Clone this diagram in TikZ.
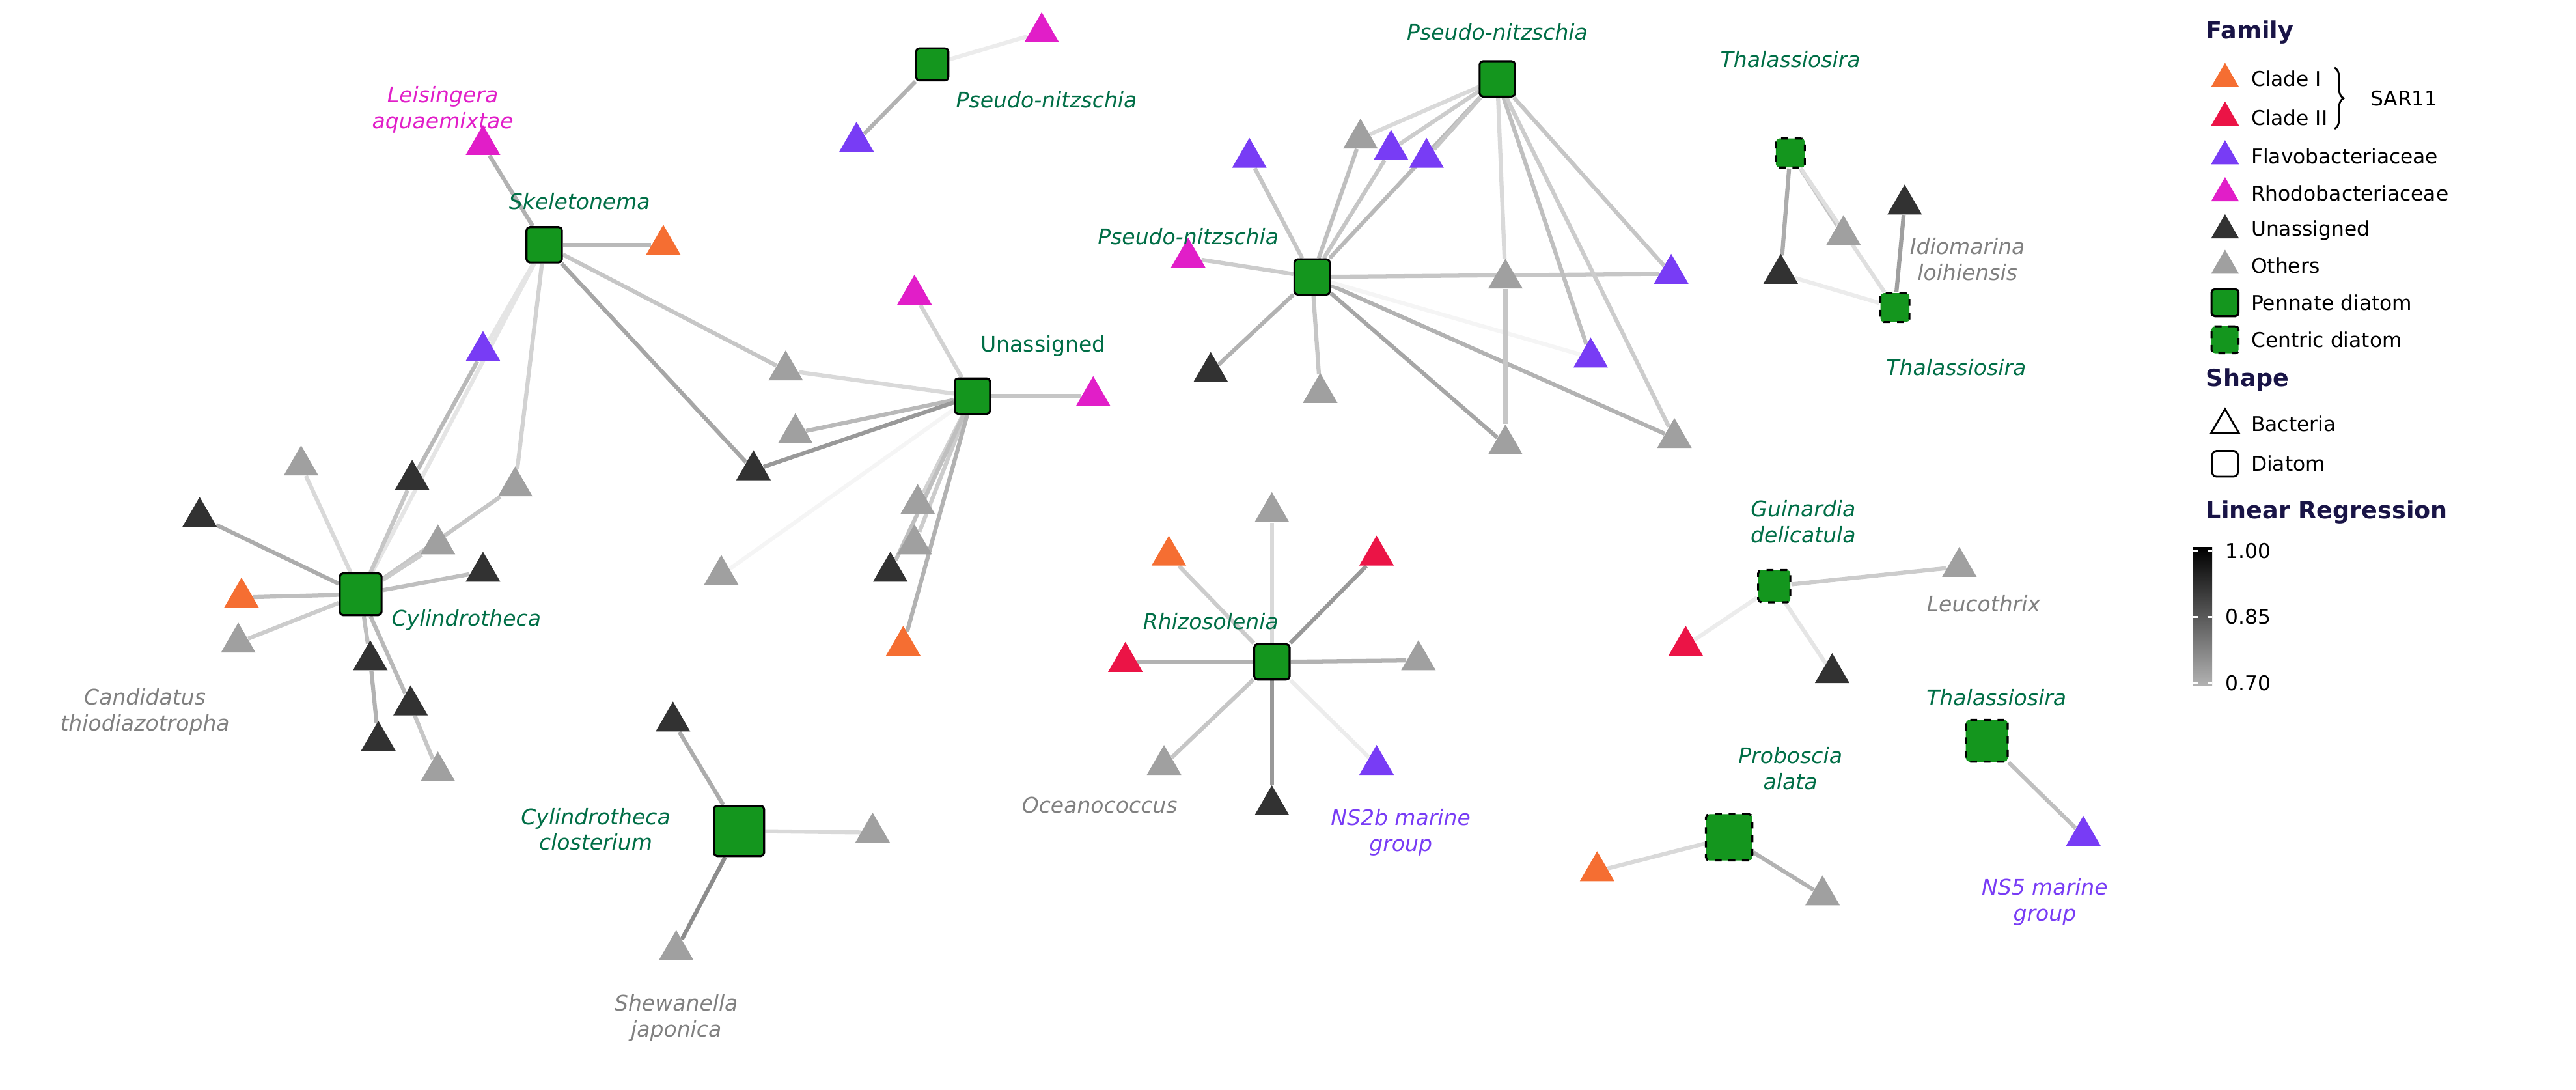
\documentclass[tikz,border=0pt]{standalone}
\usepackage{fontspec}
\setmainfont{DejaVu Sans}
\usetikzlibrary{shapes.geometric,decorations.pathreplacing}
\pgfdeclarelayer{background}
\pgfsetlayers{background,main}
\definecolor{dgreen}{RGB}{20,150,30}
\definecolor{tgreen}{RGB}{0,110,70}
\definecolor{cOrange}{RGB}{245,110,50}
\definecolor{cRed}{RGB}{235,20,70}
\definecolor{cPurple}{RGB}{120,60,245}
\definecolor{cPink}{RGB}{225,30,200}
\definecolor{cBlack}{RGB}{50,50,50}
\definecolor{cGray}{RGB}{160,160,160}
\definecolor{navy}{RGB}{25,20,70}
\tikzset{
  tri/.style={regular polygon,regular polygon sides=3,minimum size=0.62cm,inner sep=0pt,draw=none,fill=#1},
  pen/.style={rectangle,rounded corners=1.5pt,minimum size=0.55cm,fill=dgreen,draw=black,line width=0.9pt},
  cen/.style={pen,dashed},
  lbl/.style={font=\fontsize{9.5}{11.5}\selectfont\itshape,align=center,inner sep=0pt},
  glbl/.style={lbl,text=tgreen},
  e/.style={draw=gray!#1,line width=1.8pt},
  legend/.style={font=\fontsize{9}{11}\selectfont,anchor=west,inner sep=0pt}
}
\begin{document}
\begin{tikzpicture}[x=0.025cm,y=-0.025cm]
\useasboundingbox (0,0) rectangle (1600,676.5);
% nodes
\begin{scope}
  % Skeletonema / Cylindrotheca cluster
  \node[pen] (ske) at (338,152) {};
  \node[tri=cPink] (lei) at (300,90) {};
  \node[tri=cOrange] (skeO) at (412,152) {};
  \node[tri=cPurple] (skeP) at (300,218) {};
  \node[pen,minimum size=0.65cm] (cyl) at (224,369) {};
  \node[tri=cBlack] (cyB1) at (124,321) {};
  \node[tri=cOrange] (cyO) at (150,371) {};
  \node[tri=cGray] (cand) at (148,399) {};
  \node[tri=cGray] (cyG1) at (187,289) {};
  \node[tri=cBlack] (cyB2) at (256,298) {};
  \node[tri=cGray] (cyG2) at (320,302) {};
  \node[tri=cGray] (cyG3) at (272,338) {};
  \node[tri=cBlack] (cyB3) at (300,355) {};
  \node[tri=cBlack] (cyB4) at (230,410) {};
  \node[tri=cBlack] (cyB5) at (255,438) {};
  \node[tri=cBlack] (cyB6) at (235,460) {};
  \node[tri=cGray] (cyG4) at (272,479) {};
  % Unassigned
  \node[pen] (una) at (604,246) {};
  \node[tri=cPink] (unP1) at (568,183) {};
  \node[tri=cPink] (unP2) at (679,246) {};
  \node[tri=cGray] (unG1) at (488,230) {};
  \node[tri=cGray] (unG2) at (494,269) {};
  \node[tri=cBlack] (unB1) at (468,292) {};
  \node[tri=cGray] (unG3) at (448,357) {};
  \node[tri=cGray] (unG4) at (570,313) {};
  \node[tri=cGray] (unG5) at (568,338) {};
  \node[tri=cBlack] (unB2) at (553,355) {};
  \node[tri=cOrange] (unO) at (561,401) {};
  % small Pseudo-nitzschia
  \node[pen,minimum size=0.5cm] (psA) at (579,40) {};
  \node[tri=cPink] (psAP) at (647,20) {};
  \node[tri=cPurple] (psAV) at (532,88) {};
  % Pseudo-nitzschia pair
  \node[pen] (psB) at (815,172) {};
  \node[pen] (psC) at (930,49) {};
  \node[tri=cPurple] (pbV1) at (776,98) {};
  \node[tri=cGray] (pbG1) at (845,86) {};
  \node[tri=cPurple] (pbV2) at (864,93) {};
  \node[tri=cPurple] (pbV3) at (886,98) {};
  \node[tri=cPink] (pbP) at (738,160) {};
  \node[tri=cBlack] (pbB) at (752,231) {};
  \node[tri=cGray] (pbG2) at (820,244) {};
  \node[tri=cGray] (pbG3) at (935,173) {};
  \node[tri=cPurple] (pbV4) at (1038,170) {};
  \node[tri=cPurple] (pbV5) at (988,222) {};
  \node[tri=cGray] (pbG4) at (935,276) {};
  \node[tri=cGray] (pbG5) at (1040,272) {};
  % Thalassiosira pair
  \node[cen,minimum size=0.45cm] (thA) at (1112,95) {};
  \node[cen,minimum size=0.45cm] (thB) at (1177,191) {};
  \node[tri=cBlack] (thK1) at (1183,127) {};
  \node[tri=cGray] (thG) at (1145,146) {};
  \node[tri=cBlack] (thK2) at (1106,170) {};
  % Rhizosolenia
  \node[pen] (rhi) at (790,411) {};
  \node[tri=cGray] (rhG1) at (790,318) {};
  \node[tri=cOrange] (rhO) at (726,345) {};
  \node[tri=cRed] (rhR1) at (855,345) {};
  \node[tri=cRed] (rhR2) at (699,411) {};
  \node[tri=cGray] (rhG2) at (881,410) {};
  \node[tri=cGray] (oce) at (723,475) {};
  \node[tri=cPurple] (ns2) at (855,475) {};
  \node[tri=cBlack] (rhB) at (790,500) {};
  % Cylindrotheca closterium
  \node[pen,minimum size=0.78cm] (clo) at (459,516) {};
  \node[tri=cBlack] (clB) at (418,448) {};
  \node[tri=cGray] (clG) at (542,517) {};
  \node[tri=cGray] (she) at (420,590) {};
  % Guinardia
  \node[cen,minimum size=0.5cm] (gui) at (1102,364) {};
  \node[tri=cGray] (leu) at (1217,352) {};
  \node[tri=cRed] (guR) at (1047,401) {};
  \node[tri=cBlack] (guB) at (1138,418) {};
  % Thalassiosira single
  \node[cen,minimum size=0.65cm] (thC) at (1234,460) {};
  \node[tri=cPurple] (ns5) at (1294,519) {};
  % Proboscia
  \node[cen,minimum size=0.72cm] (pro) at (1074,520) {};
  \node[tri=cOrange] (prO) at (992,541) {};
  \node[tri=cGray] (prG) at (1132,556) {};
\end{scope}

% edges
\begin{pgfonlayer}{background}
\begin{scope}[every edge/.style={e=60}]
  \path (ske) edge[e=60] (lei) (ske) edge[e=55] (skeO) (ske) edge[e=20] (skeP)
        (skeP) edge[e=55] (cyB2) (ske) edge[e=20] (cyl) (ske) edge[e=35] (cyG2)
        (ske) edge[e=45] (unG1) (ske) edge[e=70] (unB1);
  \path (cyl) edge[e=65] (cyB1) (cyl) edge[e=50] (cyO) (cyl) edge[e=40] (cand)
        (cyl) edge[e=30] (cyG1) (cyl) edge[e=45] (cyB2) (cyl) edge[e=45] (cyG2)
        (cyl) edge[e=40] (cyG3) (cyl) edge[e=50] (cyB3) (cyl) edge[e=50] (cyB4)
        (cyl) edge[e=55] (cyB5) (cyB4) edge[e=60] (cyB6) (cyB5) edge[e=45] (cyG4);
  \path (una) edge[e=35] (unP1) (una) edge[e=45] (unP2) (una) edge[e=30] (unG1)
        (una) edge[e=55] (unG2) (una) edge[e=80] (unB1) (una) edge[e=8] (unG3)
        (una) edge[e=35] (unG4) (una) edge[e=40] (unG5) (una) edge[e=50] (unB2)
        (una) edge[e=60] (unO);
  \path (psA) edge[e=15] (psAP) (psA) edge[e=60] (psAV);
  \path (psB) edge[e=45] (pbV1) (psB) edge[e=50] (pbG1) (psB) edge[e=45] (pbV2)
        (psB) edge[e=40] (pbP) (psB) edge[e=60] (pbB) (psB) edge[e=45] (pbG2)
        (psB) edge[e=70] (pbG4) (psB) edge[e=60] (pbG5) (psB) edge[e=45] (pbV4)
        (psB) edge[e=8] (pbV5) (psB) edge[e=55] (psC)
        (psC) edge[e=30] (pbG1) (psC) edge[e=40] (pbV2) (psC) edge[e=45] (pbV3)
        (psC) edge[e=30] (pbG3) (psC) edge[e=45] (pbV4) (psC) edge[e=50] (pbV5)
        (psC) edge[e=40] (pbG5) (pbG3) edge[e=45] (pbG4);
  \path (thA) edge[e=65] (thK2) (thA) edge[e=45] (thG) (thA) edge[e=25] (thB)
        (thB) edge[e=75] (thK1) (thK2) edge[e=15] (thB);
  \path (rhi) edge[e=30] (rhG1) (rhi) edge[e=40] (rhO) (rhi) edge[e=80] (rhR1)
        (rhi) edge[e=60] (rhR2) (rhi) edge[e=60] (rhG2) (rhi) edge[e=45] (oce)
        (rhi) edge[e=15] (ns2) (rhi) edge[e=80] (rhB);
  \path (clo) edge[e=65] (clB) (clo) edge[e=30] (clG) (clo) edge[e=90] (she);
  \path (gui) edge[e=40] (leu) (gui) edge[e=15] (guR) (gui) edge[e=20] (guB);
  \path (thC) edge[e=50] (ns5);
  \path (pro) edge[e=30] (prO) (pro) edge[e=60] (prG);
\end{scope}
\end{pgfonlayer}

% labels
\node[glbl] (lSke) at (360,125) {Skeletonema};
\node[lbl,text=cPink] (lLei) at (275,68) {Leisingera\\aquaemixtae};
\node[glbl,anchor=west] (lCyl) at (243,385) {Cylindrotheca};
\node[lbl,text=gray] (lCan) at (90,442) {Candidatus\\thiodiazotropha};
\node[glbl,font=\fontsize{9.5}{11.5}\selectfont] (lUna) at (648,215) {Unassigned};
\node[glbl] (lPsA) at (650,62) {Pseudo-nitzschia};
\node[glbl] (lPsB) at (738,147) {Pseudo-nitzschia};
\node[glbl] (lPsC) at (930,20) {Pseudo-nitzschia};
\node[glbl] (lThA) at (1112,37) {Thalassiosira};
\node[glbl] (lThB) at (1215,228) {Thalassiosira};
\node[lbl,text=gray] (lIdi) at (1222,161) {Idiomarina\\loihiensis};
\node[glbl] (lRhi) at (752,386) {Rhizosolenia};
\node[lbl,text=gray] (lOce) at (683,500) {Oceanococcus};
\node[lbl,text=cPurple] (lNs2) at (870,517) {NS2b marine\\group};
\node[glbl] (lClo) at (370,515) {Cylindrotheca\\closterium};
\node[lbl,text=gray] (lShe) at (420,632) {Shewanella\\japonica};
\node[glbl] (lGui) at (1120,324) {Guinardia\\delicatula};
\node[lbl,text=gray] (lLeu) at (1232,375) {Leucothrix};
\node[glbl] (lThC) at (1240,433) {Thalassiosira};
\node[lbl,text=cPurple] (lNs5) at (1270,560) {NS5 marine\\group};
\node[glbl] (lPro) at (1112,477) {Proboscia\\alata};

% legend
\begin{scope}[every node/.style={legend}]
  \node[font=\fontsize{10.5}{12}\selectfont\bfseries,text=navy] (fam) at (1370,20) {Family};
  \foreach \c/\t/\y [count=\i] in {cOrange/Clade I/49,cRed/Clade II/73,cPurple/Flavobacteriaceae/97,cPink/Rhodobacteriaceae/120,cBlack/Unassigned/143,cGray/Others/165}{
    \node[tri=\c,minimum size=0.5cm,anchor=center] (lt\i) at (1382,\y) {};
    \node (lx\i) at (1398,\y) {\t};
  }
  \node[pen,minimum size=0.42cm,anchor=center] (lp) at (1382,188) {};
  \node (lpx) at (1398,188) {Pennate diatom};
  \node[cen,minimum size=0.42cm,anchor=center] (lc) at (1382,211) {};
  \node (lcx) at (1398,211) {Centric diatom};
  \node[font=\fontsize{10.5}{12}\selectfont\bfseries,text=navy] (shp) at (1370,236) {Shape};
  \node[tri=white,draw=black,thick,minimum size=0.5cm,anchor=center] (lb) at (1382,264) {};
  \node (lbx) at (1398,263) {Bacteria};
  \node[rectangle,rounded corners=2pt,draw=black,thick,minimum size=0.4cm,anchor=center] (ld) at (1382,288) {};
  \node (ldx) at (1398,288) {Diatom};
  \node[font=\fontsize{10.5}{12}\selectfont\bfseries,text=navy] (lin) at (1370,318) {Linear Regression};
  \node (v1) at (1382,342) {1.00};
  \node (v2) at (1382,383) {0.85};
  \node (v3) at (1382,424) {0.70};
  \node (sar) at (1472,61) {SAR11};
\end{scope}
\draw[decorate,decoration={brace,amplitude=4pt},thick] (1450,42) -- (1450,80);
\shade[top color=black,bottom color=gray!60] (1362,340) rectangle (1374,426);
\foreach \y in {342,383,424} \draw[white,thick] (1362,\y) -- (1365,\y) (1371,\y) -- (1374,\y);
\end{tikzpicture}
\end{document}
